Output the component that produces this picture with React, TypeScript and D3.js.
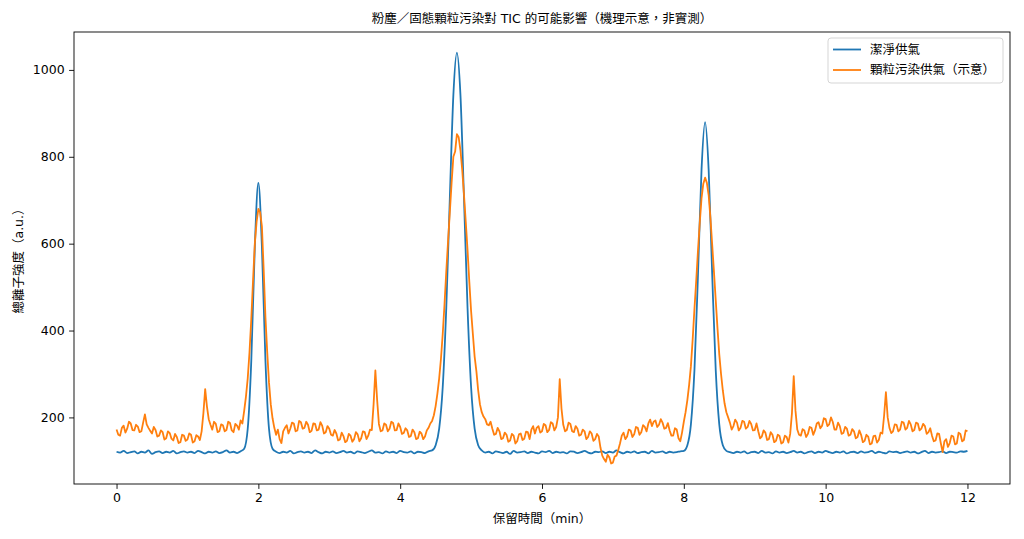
import * as React from "react";
import * as d3 from "d3";

const { useRef, useEffect } = React;

// sampling interval of each trace (min)
const CLEAN_STEP = 0.05;
const DUSTY_STEP = 0.025;

const cleanGas = [
  121, 119, 123, 118, 120, 122, 117, 121, 119, 124, 116, 120, 122, 118, 121, 119, 123, 117, 120, 122,
  119, 121, 118, 123, 120, 117, 121, 119, 122, 118, 120, 124, 119, 121, 118, 122,
  128, 174, 330, 593, 740, 593, 330, 174, 128, 121,
  118, 121, 119, 123, 117, 120, 122, 119, 121, 118, 124, 120, 117, 121, 119, 122, 118, 120, 123, 119,
  121, 117, 122, 120, 118, 121, 124, 119, 120, 117, 122, 119, 121, 118, 123, 120, 119, 122, 117, 121,
  120, 118, 122,
  124, 136, 174, 270, 452, 704, 942, 1040, 942, 704, 452, 270, 174, 136, 124,
  119, 121, 117, 122, 120, 118, 121, 116, 123, 119, 120, 122, 118, 121, 119, 117, 122, 120, 123, 118,
  121, 119, 120, 117, 122, 121, 118, 120, 123, 119, 117, 121, 120, 122, 118, 121, 119, 124, 120, 117,
  121, 119, 122, 118, 120, 121, 117, 123, 119, 120, 122, 118, 121, 119, 120, 122,
  123, 136, 184, 309, 530, 771, 880, 771, 530, 309, 184, 136, 123,
  120, 118, 121, 119, 122, 117, 120, 121, 118, 123, 119, 120, 117, 122, 119, 121, 118, 120, 123, 119,
  121, 117, 120, 122, 118, 121, 119, 123, 120, 118, 121, 119, 122, 117, 120, 121, 118, 122, 119, 120,
  123, 118, 121, 119, 117, 122, 120, 121, 118, 120, 122, 119, 121, 117, 120, 123, 118, 121, 119, 120,
  122, 118, 121, 120, 119, 122, 121, 123,
];

// one row = 0.25 min
const dustyGas = [
  172, 160, 158, 176, 181, 165, 174, 190, 186, 171,
  170, 183, 179, 166, 168, 188, 207, 184, 176, 169,
  163, 178, 171, 156, 158, 170, 166, 149, 152, 168,
  164, 151, 147, 162, 155, 141, 143, 160, 158, 146,
  149, 163, 160, 142, 145, 159, 156, 148, 168, 210,
  265, 225, 196, 183, 172, 190, 185, 166, 168, 184,
  182, 168, 171, 190, 187, 170, 166, 185, 181, 172,
  193, 186, 215, 248, 290, 350, 426, 515, 600, 650,
  680, 672, 640, 540, 430, 350, 280, 230, 198, 176,
  160, 172, 150, 141, 168, 176, 182, 163, 174, 188,
  186, 168, 170, 192, 189, 174, 176, 190, 183, 166,
  169, 186, 185, 170, 172, 189, 181, 163, 166, 180,
  174, 160, 158, 171, 163, 147, 149, 165, 157, 143,
  146, 162, 158, 144, 150, 166, 161, 145, 152, 168,
  166, 150, 158, 172, 171, 230, 308, 240, 185, 168,
  170, 186, 183, 168, 174, 190, 187, 170, 171, 186,
  178, 162, 164, 175, 170, 155, 157, 172, 166, 150,
  152, 167, 163, 150, 156, 170, 176, 186, 192, 205,
  226, 255, 290, 335, 392, 460, 536, 605, 672, 740,
  800, 812, 852, 845, 815, 770, 712, 650, 585, 512,
  445, 392, 340, 306, 262, 230, 212, 202, 196, 184,
  182, 190, 174, 160, 162, 176, 168, 150, 152, 165,
  160, 144, 147, 162, 158, 140, 145, 161, 163, 148,
  151, 167, 166, 150, 172, 180, 163, 176, 180, 165,
  168, 185, 182, 166, 171, 189, 186, 170, 178, 200,
  288, 220, 183, 168, 171, 188, 185, 168, 166, 180,
  174, 158, 160, 172, 168, 150, 155, 168, 163, 146,
  150, 162, 156, 130, 112, 104, 98, 114, 108, 94,
  96, 110, 112, 125, 140, 158, 165, 150, 156, 172,
  170, 155, 161, 178, 176, 160, 166, 182, 178, 168,
  186, 195, 180, 190, 193, 178, 183, 196, 188, 174,
  176, 187, 170, 158, 158, 175, 172, 152, 145, 165,
  190, 212, 240, 275, 318, 380, 450, 515, 585, 648,
  705, 738, 752, 740, 712, 660, 598, 535, 470, 405,
  345, 300, 262, 232, 212, 200, 188, 172, 180, 195,
  188, 170, 176, 192, 190, 174, 178, 192, 185, 170,
  171, 186, 168, 152, 156, 170, 165, 148, 150, 166,
  160, 143, 146, 160, 157, 140, 143, 158, 155, 142,
  162, 210, 295, 215, 172, 160, 158, 173, 170, 155,
  162, 178, 176, 160, 170, 186, 189, 175, 181, 198,
  196, 180, 184, 200, 190, 172, 172, 188, 180, 162,
  164, 178, 174, 158, 160, 173, 168, 152, 155, 170,
  160, 143, 146, 160, 156, 138, 140, 157, 158, 142,
  148, 165, 163, 205, 258, 200, 176, 164, 168, 184,
  183, 168, 172, 190, 188, 172, 176, 192, 184, 168,
  171, 188, 186, 170, 174, 185, 180, 162, 166, 175,
  158, 145, 147, 163, 162, 140, 120, 145, 150, 132,
  141, 158, 156, 138, 140, 165, 162, 145, 148, 170,
  168,
];

const xTicks = [0, 2, 4, 6, 8, 10, 12];
const yTicks = [200, 400, 600, 800, 1000];

const seriesNames = ["潔淨供氣", "顆粒污染供氣（示意）"];
const colors = ["#1f77b4", "#ff7f0e"];

const FONT = '"DejaVu Sans", "Noto Sans CJK TC", sans-serif';

export default function App() {
  const svgRef = useRef(null);

  useEffect(() => {
    const svg = d3.select(svgRef.current);
    svg.selectAll("*").remove();

    const width = 1024, height = 539;
    const margin = { top: 32, right: 14, bottom: 55, left: 74 };
    const innerW = width - margin.left - margin.right;
    const innerH = height - margin.top - margin.bottom;

    const all = cleanGas.concat(dustyGas);
    const yMin = d3.min(all), yMax = d3.max(all);
    const yPad = (yMax - yMin) * 0.05;

    const x = d3.scaleLinear().domain([-0.6, 12.6]).range([0, innerW]);
    const y = d3.scaleLinear().domain([yMin - yPad, yMax + yPad]).range([innerH, 0]);

    const g = svg.append("g").attr("transform", `translate(${margin.left},${margin.top})`);

    const cleanLine = d3.line()
      .x((d, i) => x(i * CLEAN_STEP))
      .y(d => y(d))
      .curve(d3.curveMonotoneX);

    const dustyLine = d3.line()
      .x((d, i) => x(i * DUSTY_STEP))
      .y(d => y(d));

    g.append("path")
      .datum(cleanGas)
      .attr("fill", "none")
      .attr("stroke", colors[0])
      .attr("stroke-width", 1.8)
      .attr("stroke-linejoin", "round")
      .attr("d", cleanLine);

    g.append("path")
      .datum(dustyGas)
      .attr("fill", "none")
      .attr("stroke", colors[1])
      .attr("stroke-width", 1.8)
      .attr("stroke-linejoin", "round")
      .attr("d", dustyLine);

    // frame
    g.append("rect")
      .attr("width", innerW)
      .attr("height", innerH)
      .attr("fill", "none")
      .attr("stroke", "#000")
      .attr("stroke-width", 0.9);

    const xAxis = g.append("g")
      .attr("transform", `translate(0,${innerH})`)
      .call(d3.axisBottom(x).tickValues(xTicks).tickSize(4.9).tickPadding(4.5).tickFormat(d3.format("d")));
    const yAxis = g.append("g")
      .call(d3.axisLeft(y).tickValues(yTicks).tickSize(4.9).tickPadding(4.5).tickFormat(d3.format("d")));

    [xAxis, yAxis].forEach(a => {
      a.select(".domain").remove();
      a.selectAll("line").attr("stroke", "#000").attr("stroke-width", 0.9);
      a.selectAll("text")
        .attr("fill", "#000")
        .style("font-family", FONT)
        .style("font-size", "12.5px");
    });

    // title and axis labels
    svg.append("text")
      .attr("x", margin.left + innerW / 2)
      .attr("y", 23)
      .attr("text-anchor", "middle")
      .style("font-family", FONT)
      .style("font-size", "12.5px")
      .text("粉塵／固態顆粒污染對 TIC 的可能影響（機理示意，非實測）");

    svg.append("text")
      .attr("x", margin.left + innerW / 2)
      .attr("y", 523)
      .attr("text-anchor", "middle")
      .style("font-family", FONT)
      .style("font-size", "12.5px")
      .text("保留時間（min）");

    svg.append("text")
      .attr("transform", `translate(23,${margin.top + innerH / 2}) rotate(-90)`)
      .attr("text-anchor", "middle")
      .style("font-family", FONT)
      .style("font-size", "12.5px")
      .text("總離子強度（a.u.）");

    // legend
    const lg = svg.append("g").attr("transform", "translate(828,38)");
    lg.append("rect")
      .attr("width", 175)
      .attr("height", 45)
      .attr("rx", 3)
      .attr("fill", "#fff")
      .attr("fill-opacity", 0.8)
      .attr("stroke", "#d0d0d0")
      .attr("stroke-width", 0.9);

    seriesNames.forEach((name, i) => {
      const row = lg.append("g").attr("transform", `translate(0,${11.5 + i * 20.5})`);
      row.append("line")
        .attr("x1", 5).attr("x2", 33)
        .attr("stroke", colors[i])
        .attr("stroke-width", 1.8);
      row.append("text")
        .attr("x", 42)
        .attr("dy", "0.35em")
        .style("font-family", FONT)
        .style("font-size", "12.5px")
        .text(name);
    });
  }, []);

  return (
    <div style={{ position: "absolute", left: 0, top: 0 }}>
      <svg ref={svgRef} width={1024} height={539} style={{ display: "block", background: "#fff" }} />
    </div>
  );
}
